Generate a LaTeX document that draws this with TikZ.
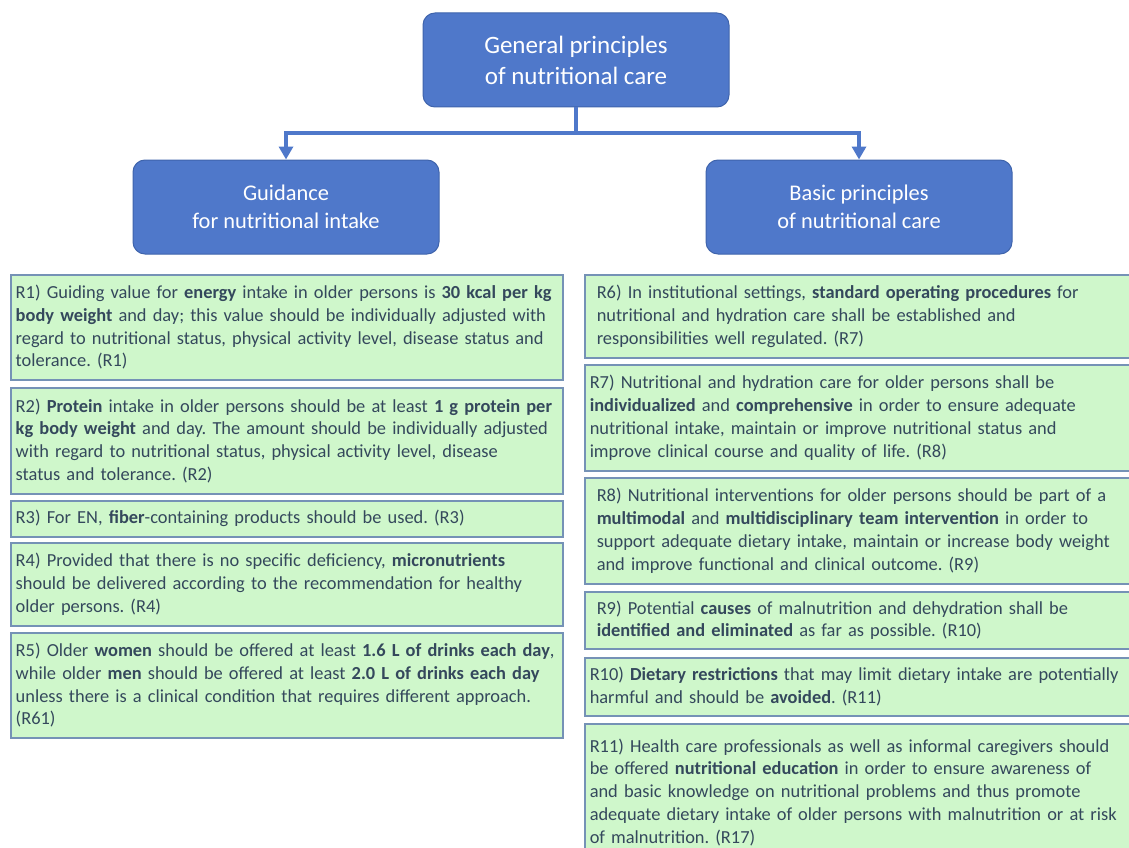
\documentclass[tikz,border=0pt]{standalone}
\usepackage{fontspec}
\setmainfont{Carlito}
\frenchspacing
\usetikzlibrary{arrows.meta}
\usetikzlibrary{positioning}

\definecolor{headblue}{HTML}{4F78CA}
\definecolor{headline}{HTML}{3F64AC}
\definecolor{recgreen}{HTML}{CFF7CB}
\definecolor{recline}{HTML}{7592B6}
\definecolor{rectext}{HTML}{34485C}

\tikzset{
  headbox/.style={rectangle, rounded corners=12pt, draw=headline, fill=headblue, text=white, line width=1pt, minimum width=306pt, minimum height=94pt, align=center, font=\fontsize{25}{31}\selectfont},
  subbox/.style={headbox, font=\fontsize{22.4}{28}\selectfont},
  recbox/.style={rectangle, draw=recline, fill=recgreen, text=rectext, line width=1.5pt, anchor=north west, align=left, inner xsep=5pt, text width=542pt, font=\fontsize{18.4}{22.8}\selectfont},
  rightbox/.style={recbox, text width=537pt},
  indentbox/.style={recbox, inner xsep=12pt, text width=523pt},
  link/.style={draw=headblue, line width=4pt, -{Triangle[length=13pt,width=14pt]}},
}

\begin{document}
\begin{tikzpicture}[x=1pt, y=-1pt]
        \clip (0,0) rectangle (1129,848);
        \useasboundingbox (0,0) rectangle (1129,848);
        \fill[white] (0,0) rectangle (1129,848);

        \node[headbox] (general) at (576,60) {General principles\\of nutritional care};
        \node[subbox] (guidance) at (286,207) {Guidance\\for nutritional intake};
        \node[subbox] (basic) at (859,207) {Basic principles\\of nutritional care};

        \coordinate (fork) at (576,133);
        \draw[draw=headblue, line width=4pt] (general.south) -- (fork);
        \draw[link] (fork) -| (guidance.north);
        \draw[link] (fork) -| (basic.north);

        % guidance for nutritional intake
        \node[recbox, minimum height=105pt] (r1) at (10,274) {R1) Guiding value for \textbf{energy} intake in older persons is \textbf{30 kcal per kg}\\\textbf{body weight} and day; this value should be individually adjusted with\\regard to nutritional status, physical activity level, disease status and\\tolerance. (R1)};
        \node[recbox, minimum height=106pt] (r2) at (10,387) {R2) \textbf{Protein} intake in older persons should be at least \textbf{1 g protein per}\\\textbf{kg body weight} and day. The amount should be individually adjusted\\with regard to nutritional status, physical activity level, disease\\status and tolerance. (R2)};
        \node[recbox, minimum height=36pt] (r3) at (10,500) {R3) For EN, \textbf{fiber}-containing products should be used. (R3)};
        \node[recbox, minimum height=83pt] (r4) at (10,542) {R4) Provided that there is no specific deficiency, \textbf{micronutrients}\\should be delivered according to the recommendation for healthy\\older persons. (R4)};
        \node[recbox, minimum height=105pt] (r5) at (10,632) {R5) Older \textbf{women} should be offered at least \textbf{1.6 L of drinks each day},\\while older \textbf{men} should be offered at least \textbf{2.0 L of drinks each day}\\unless there is a clinical condition that requires different approach.\\(R61)};

        % basic principles of nutritional care
        \node[indentbox, minimum height=83pt] (r6) at (584,274) {R6) In institutional settings, \textbf{standard operating procedures} for\\nutritional and hydration care shall be established and\\responsibilities well regulated. (R7)};
        \node[rightbox, minimum height=106pt] (r7) at (584,364) {R7) Nutritional and hydration care for older persons shall be\\\textbf{individualized} and \textbf{comprehensive} in order to ensure adequate\\nutritional intake, maintain or improve nutritional status and\\improve clinical course and quality of life. (R8)};
        \node[indentbox, minimum height=106pt] (r8) at (584,477) {R8) Nutritional interventions for older persons should be part of a\\\textbf{multimodal} and \textbf{multidisciplinary team intervention} in order to\\support adequate dietary intake, maintain or increase body weight\\and improve functional and clinical outcome. (R9)};
        \node[indentbox, minimum height=57pt] (r9) at (584,591) {R9) Potential \textbf{causes} of malnutrition and dehydration shall be\\\textbf{identified and eliminated} as far as possible. (R10)};
        \node[rightbox, minimum height=58pt] (r10) at (584,657) {R10) \textbf{Dietary restrictions} that may limit dietary intake are potentially\\harmful and should be \textbf{avoided}. (R11)};
        \node[rightbox, minimum height=137pt] (r11) at (584,723) {R11) Health care professionals as well as informal caregivers should\\be offered \textbf{nutritional education} in order to ensure awareness of\\and basic knowledge on nutritional problems and thus promote\\adequate dietary intake of older persons with malnutrition or at risk\\of malnutrition. (R17)};
    \end{tikzpicture}
\end{document}
